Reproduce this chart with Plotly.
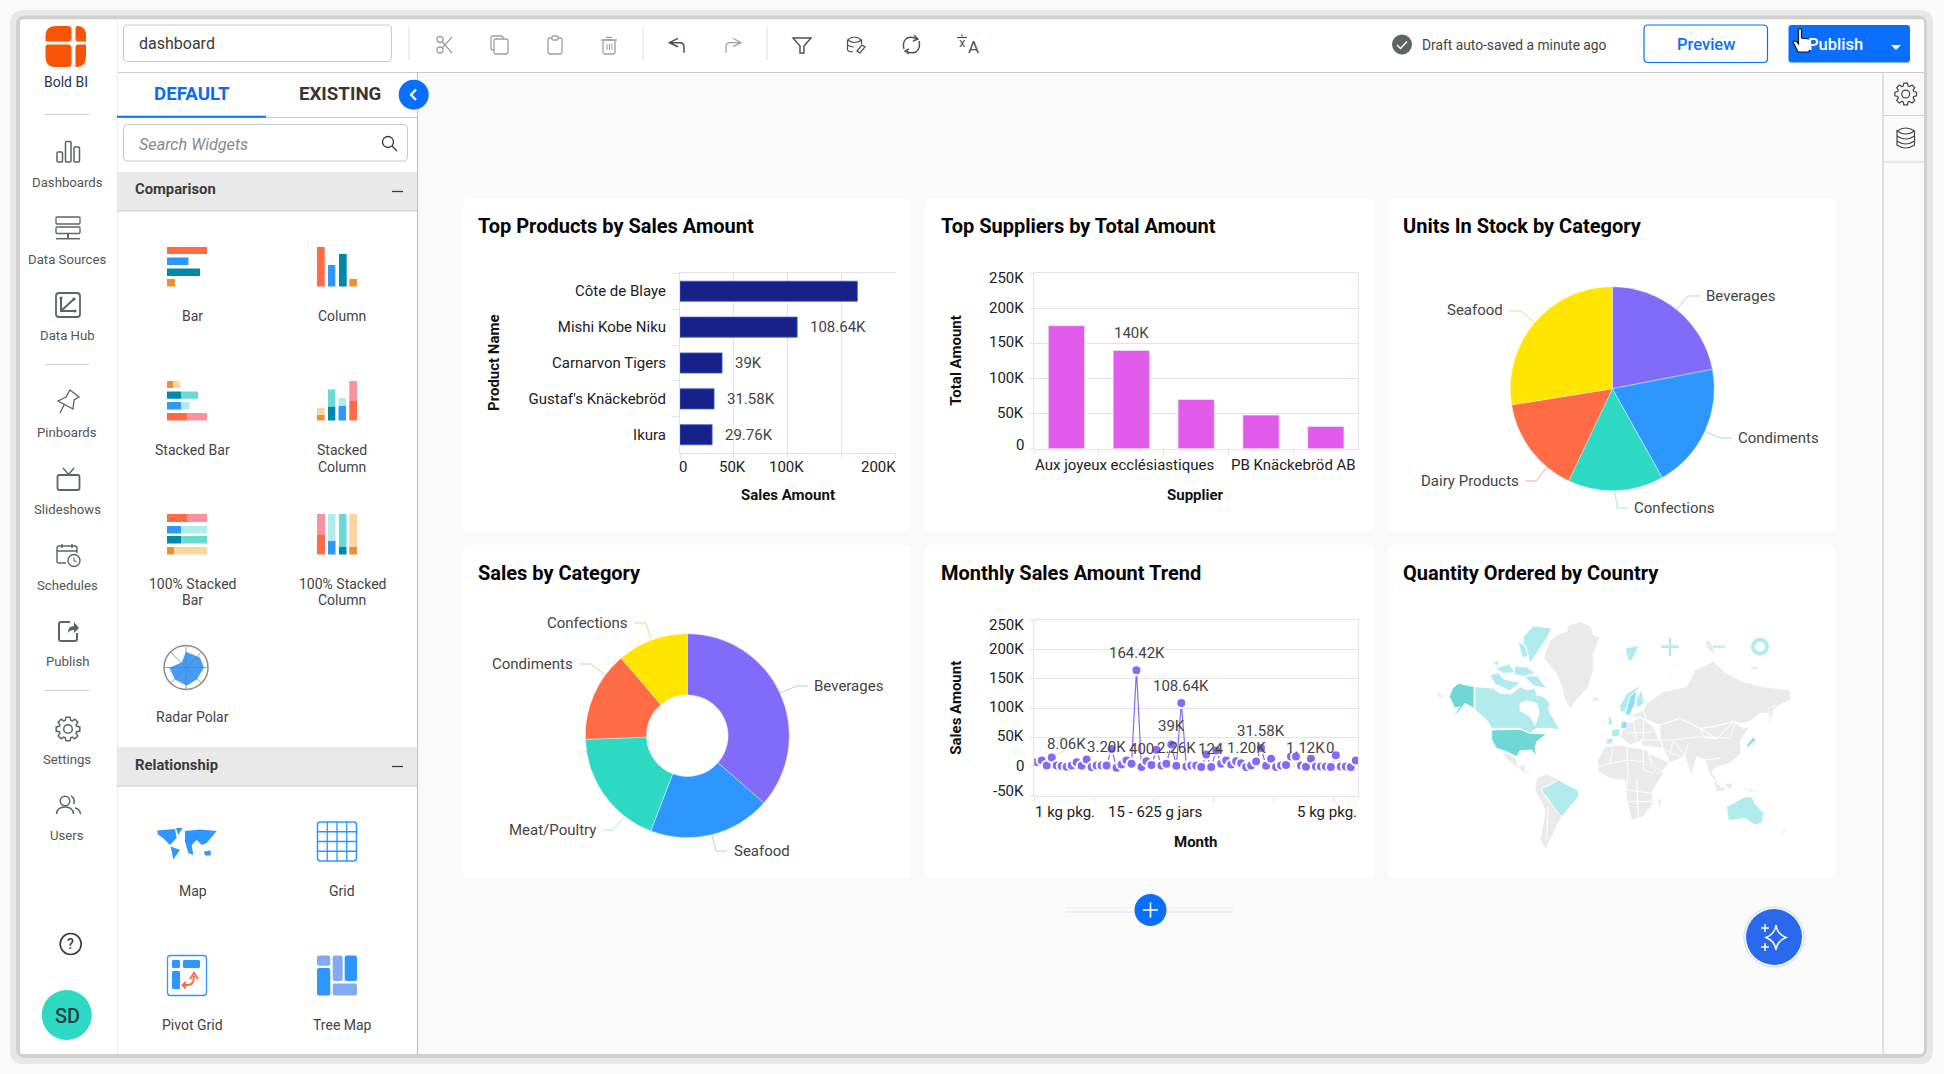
import math
import re
import plotly.graph_objects as go

W, H = 1944, 1074
FONT = "Roboto"

# chart values
product_names = ["Côte de Blaye", "Mishi Kobe Niku", "Carnarvon Tigers", "Gustaf's Knäckebröd", "Ikura"]
product_sales = [164420, 108640, 39000, 31580, 29760]
product_labels = ["", "108.64K", "39K", "31.58K", "29.76K"]
product_ticks = [0, 50000, 100000, 200000]
product_ticktext = ["0", "50K", "100K", "200K"]

supplier_names = ["Aux joyeux ecclésiastiques", "Tokyo Traders", "Plutzer", "Pavlova", "PB Knäckebröd AB"]
supplier_amount = [175400, 140000, 70300, 48000, 31800]

stock_cats = ["Beverages", "Condiments", "Confections", "Dairy Products", "Seafood"]
stock_units = [559, 507, 386, 393, 701]

sales_cats = ["Beverages", "Seafood", "Meat/Poultry", "Condiments", "Confections"]
sales_vals = [267900, 142000, 136700, 105300, 82400]

amount_ticks = [250000, 200000, 150000, 100000, 50000, 0]
amount_ticktext = ["250K", "200K", "150K", "100K", "50K", "0"]
trend_ticks = [250000, 200000, 150000, 100000, 50000, 0, -50000]
trend_ticktext = ["250K", "200K", "150K", "100K", "50K", "0", "-50K"]

trend_vals = [
    7400, 10300, 1700, 15400, 1700, 600, -600, 1700, 7400, 1100,
    12000, -1100, 1700, 1700, 1700, 30000, -2300, 3400, 10300, 4600,
    164420, -1100, 9100, 2300, 28500, 1700, 4600, 37600, 1100, 108640,
    0, 1700, 1700, -1100, 20500, -1100, 27400, 4600, 10300, 3400,
    9100, 5700, -1100, 1700, 8600, 31580, 1100, 13100, -1100, 1700,
    2300, 17100, 17100, 1700, -600, 13100, 0, 0, 0, -1100,
    19000, 0, 0, -1100, 10300,
]
trend_notes = ["164.42K", "108.64K", "39K", "31.58K", "8.06K", "3.20K", "400", "2.26K", "124", "1.20K", "1.12K", "0"]
trend_note_pos = [20.07, 29, 27, 44.93, 6, 14.07, 21, 28.07, 35, 42, 53.87, 58.87]
trend_note_val = [193800, 137300, 68400, 60000, 38200, 32500, 29700, 31300, 29100, 31300, 31300, 30800]
trend_tick_text = ["1 kg pkg.", "15 - 625 g jars", "5 kg pkg."]
trend_tick_pos = [5.67, 23.73, 58.13]

# world map outlines, in units of the map card (470 x 350 card at 3 units per pixel)
map_grey = [
    [(565, 255), (600, 245), (635, 260), (640, 285), (660, 292), (640, 340), (640, 390), (625, 440), (590, 480), (570, 505), (555, 480), (545, 440), (530, 400), (490, 355), (510, 300), (540, 280), (560, 275)],
    [(168, 455), (185, 462), (190, 478), (175, 470)],
    [(365, 635), (405, 650), (415, 680), (440, 672), (432, 688), (462, 708), (430, 695), (395, 670), (375, 650)],
    [(470, 715), (500, 700), (540, 722), (505, 735), (487, 745), (490, 762), (520, 800), (545, 830), (525, 870), (510, 900), (497, 928), (480, 900), (490, 850), (495, 810), (465, 750)],
    [(635, 475), (655, 470), (657, 482), (640, 486)],
    [(800, 490), (850, 455), (920, 440), (945, 390), (1000, 365), (1040, 400), (1090, 425), (1150, 440), (1230, 450), (1232, 480), (1190, 500), (1165, 552), (1172, 520), (1140, 520), (1115, 540), (1090, 550), (1060, 545), (1000, 560), (960, 565), (900, 535), (840, 555), (800, 540), (790, 510)],
    [(960, 565), (1000, 560), (1060, 545), (1010, 597)],
    [(840, 555), (900, 535), (960, 565), (1010, 597), (1060, 545), (1090, 565), (1110, 560), (1082, 600), (1082, 640), (1050, 670), (1010, 680), (995, 695), (1025, 745), (990, 705), (975, 660), (950, 650), (935, 705), (915, 650), (870, 640), (850, 625), (840, 600)],
    [(840, 600), (880, 600), (915, 650), (870, 668), (850, 625)],
    [(805, 640), (870, 668), (835, 702), (815, 680)],
    [(675, 620), (720, 615), (800, 630), (825, 680), (850, 700), (815, 760), (820, 790), (790, 830), (755, 840), (740, 780), (735, 720), (690, 715), (655, 695), (652, 660)],
    [(835, 780), (848, 775), (835, 810)],
    [(730, 560), (780, 530), (820, 560), (838, 600), (790, 600), (750, 615), (722, 590)],
    [(745, 530), (790, 510), (800, 540), (780, 532)],
    [(780, 600), (840, 600), (850, 625), (790, 618)],
    [(1000, 720), (1040, 750), (1010, 755)],
    [(1030, 730), (1060, 730), (1050, 750)],
    [(1100, 745), (1140, 755), (1110, 755)],
    [(860, 425), (890, 375), (902, 370), (870, 402)],
    [(975, 305), (990, 300), (1008, 345), (985, 330)],
    [(1105, 378), (1140, 380), (1125, 392)],
    [(1200, 885), (1222, 855), (1215, 875)],
    [(1165, 505), (1185, 495), (1175, 540), (1165, 552)],
]
map_pale = [
    [(285, 440), (340, 445), (360, 460), (395, 462), (420, 440), (440, 450), (465, 445), (470, 465), (490, 470), (510, 490), (505, 510), (530, 550), (540, 570), (510, 565), (470, 565), (450, 580), (420, 565), (335, 565), (320, 540), (285, 510)],
    [(430, 290), (460, 258), (515, 265), (500, 295), (470, 340), (450, 370), (440, 330), (430, 310)],
    [(415, 305), (438, 318), (445, 350), (425, 352)],
    [(340, 370), (358, 358), (352, 378)],
    [(345, 385), (388, 372), (405, 398), (370, 400)],
    [(405, 378), (442, 382), (465, 398), (432, 410), (400, 402)],
    [(330, 405), (355, 398), (372, 418), (422, 428), (388, 452), (345, 432)],
    [(432, 408), (472, 408), (500, 445), (462, 438)],
    [(485, 745), (510, 735), (535, 720), (595, 752), (595, 770), (570, 800), (555, 815), (545, 830), (520, 800), (500, 770), (490, 760)],
    [(735, 325), (760, 320), (778, 316), (770, 332), (755, 362), (745, 362)],
    [(785, 435), (740, 460), (718, 500), (722, 516), (735, 515), (745, 490), (765, 455)],
    [(785, 450), (792, 490), (770, 505), (770, 475)],
    [(695, 570), (720, 565), (718, 590), (695, 590)],
    [(680, 595), (700, 595), (695, 612), (680, 612)],
    [(685, 522), (695, 540), (700, 555), (685, 555)],
    [(1040, 800), (1095, 770), (1115, 770), (1125, 790), (1152, 820), (1145, 850), (1125, 855), (1095, 835), (1045, 842)],
]
map_water = [
    [(420, 490), (440, 482), (470, 490), (478, 520), (465, 555), (450, 530), (420, 512)],
]
map_teal = [
    [(235, 430), (282, 440), (282, 505), (255, 490), (240, 510), (215, 535), (240, 500), (225, 505), (208, 470), (218, 445)],
    [(335, 570), (420, 568), (450, 580), (470, 580), (500, 582), (470, 605), (465, 625), (470, 650), (455, 630), (420, 632), (410, 650), (380, 635), (350, 625), (335, 600)],
]
map_sky = [
    [(770, 450), (750, 470), (735, 525), (750, 525), (765, 490)],
    [(725, 545), (742, 545), (740, 565), (722, 565)],
    [(1120, 590), (1128, 600), (1100, 625), (1100, 615)],
]
map_borders = [
    [(700, 615), (690, 670), (655, 680)], [(740, 620), (745, 700)], [(790, 630), (790, 690), (820, 700)],
    [(690, 670), (745, 660), (790, 665)], [(745, 700), (740, 750), (815, 760)], [(770, 715), (775, 830)],
    [(740, 785), (820, 785)], [(870, 640), (880, 600), (960, 590), (1010, 597)], [(960, 565), (970, 590), (1050, 595), (1065, 548)],
    [(915, 650), (925, 610)], [(975, 660), (1020, 655)], [(805, 640), (850, 625)], [(760, 545), (770, 600)],
    [(790, 545), (790, 600)], [(740, 580), (820, 575)], [(505, 800), (500, 900)],
]

card_titles = ["Top Products by Sales Amount", "Top Suppliers by Total Amount", "Units In Stock by Category",
               "Sales by Category", "Monthly Sales Amount Trend", "Quantity Ordered by Country"]

widgets = [("Bar", 192.5, 316.5), ("Column", 342, 316.5), ("Stacked Bar", 192.5, 450), ("Stacked", 342, 450), ("Column", 342, 466.5),
           ("100% Stacked", 192.5, 584), ("Bar", 192.5, 600), ("100% Stacked", 342, 584), ("Column", 342, 600), ("Radar Polar", 192.5, 717),
           ("Map", 192.5, 891), ("Grid", 342, 891), ("Pivot Grid", 192.5, 1025), ("Tree Map", 342, 1025)]
nav_items = [("Dashboards", 182.5), ("Data Sources", 259.5), ("Data Hub", 335), ("Pinboards", 432), ("Slideshows", 509.5),
             ("Schedules", 585), ("Publish", 661), ("Settings", 759.5), ("Users", 835.5)]

RED, BLUE, TEAL, ORANGE = "#FF6B45", "#2D96FF", "#0088AA", "#EE9030"
PINK, MINT, ICE, SAND = "#F9929F", "#6BD9D3", "#B2EBEB", "#FAD5A0"
PIE = ["#816CF9", "#2D96FF", "#2ED9C3", "#FF6B45", "#FFE500"]
ICON = "#5B6660"
ACCENT = "#0A6EFF"
GRID = "#E3E3EC"
TICK = 15

shapes = []
notes = []


def fx(x):
    return x / W


def fy(y):
    return 1 - y / H


def path(d, fill="rgba(0,0,0,0)", color="rgba(0,0,0,0)", width=0, layer="below"):
    tokens = re.findall(r"[MLQCZ]|-?\d+\.?\d*", d)
    out, is_x = [], True
    for t in tokens:
        if t in "MLQCZ":
            out.append(t)
            is_x = True
        else:
            out.append(f"{fx(float(t)):.6f}" if is_x else f"{fy(float(t)):.6f}")
            is_x = not is_x
    shapes.append(dict(type="path", xref="paper", yref="paper", path=" ".join(out), fillcolor=fill,
                       line=dict(color=color, width=width), layer=layer))


def rrect(x0, y0, x1, y1, r=0, fill="rgba(0,0,0,0)", color="rgba(0,0,0,0)", width=0):
    path(f"M{x0+r},{y0} L{x1-r},{y0} Q{x1},{y0} {x1},{y0+r} L{x1},{y1-r} Q{x1},{y1} {x1-r},{y1} "
         f"L{x0+r},{y1} Q{x0},{y1} {x0},{y1-r} L{x0},{y0+r} Q{x0},{y0} {x0+r},{y0} Z", fill, color, width)


def line(x0, y0, x1, y1, color=ICON, width=1.5):
    shapes.append(dict(type="line", xref="paper", yref="paper", x0=fx(x0), y0=fy(y0), x1=fx(x1), y1=fy(y1),
                       line=dict(color=color, width=width), layer="below"))


def circle(cx, cy, r, fill="rgba(0,0,0,0)", color="rgba(0,0,0,0)", width=0):
    shapes.append(dict(type="circle", xref="paper", yref="paper", x0=fx(cx - r), y0=fy(cy - r), x1=fx(cx + r), y1=fy(cy + r),
                       fillcolor=fill, line=dict(color=color, width=width), layer="below"))


def poly(points, fill="rgba(0,0,0,0)", color="rgba(0,0,0,0)", width=0, close=True):
    d = "M" + " L".join(f"{x},{y}" for x, y in points) + (" Z" if close else "")
    path(d, fill, color, width)


def gear(cx, cy, r, color=ICON, width=1.5):
    pts = []
    for i in range(8):
        a = i * math.pi / 4
        for da, rad in ((-0.3, r * 0.76), (-0.17, r), (0.17, r), (0.3, r * 0.76)):
            pts.append((round(cx + rad * math.sin(a + da), 2), round(cy - rad * math.cos(a + da), 2)))
    poly(pts, color=color, width=width)
    circle(cx, cy, r * 0.36, color=color, width=width)


def text(x, y, s, size=13, color="#444", anchor="center", weight=400, style="normal", angle=0):
    # annotation boxes carry about 2px of padding
    x = x - 2 if anchor == "left" else x + 2 if anchor == "right" else x
    notes.append(dict(x=fx(x), y=fy(y), xref="paper", yref="paper", text=s, showarrow=False, xanchor=anchor, yanchor="middle",
                      textangle=angle, font=dict(family=FONT, size=size, color=color, weight=weight, style=style)))


def draw_frame():
    rrect(10, 10, 1933, 1064, 14, "#E7E7E7")
    rrect(16, 15.5, 1927, 1058, 10, "#D0D0D0")
    rrect(20, 19.5, 1924, 1054, 4, "#FAFAFA")
    rrect(20, 19.5, 117, 1054, 2, "#FFFFFF")
    path("M117,19.5 L1922,19.5 L1924,22 L1924,72 L117,72 Z", "#FFFFFF")
    path("M117,72 L417,72 L417,1054 L117,1054 Z", "#FFFFFF")
    line(117, 72.5, 1924, 72.5, "#CCCCCC", 1.2)
    line(417.5, 72, 417.5, 1054, "#C4C4C4", 1.2)
    line(1883, 72, 1883, 1054, "#C8C8C8", 1)
    line(1883, 115.5, 1924, 115.5, "#D0D0D0", 1)
    line(1883, 162, 1924, 162, "#D0D0D0", 1)
    line(117.5, 20, 117.5, 1054, "#EFEFEF", 1.5)


def draw_top_bar():
    rrect(123.5, 25, 391.5, 61.5, 4, "#FFFFFF", "#C8C8C8", 1)
    text(138.5, 43.5, "dashboard", 16, "#3A3A3A", "left")
    for x in (409, 643, 767):
        line(x, 27, x, 60, "#E0E0E0", 1)
    grey = "#A0A0A0"
    dark = "#4A5058"
    circle(440, 39.5, 3, color=grey, width=1.3)
    circle(440, 50, 3, color=grey, width=1.3)
    line(442, 41.5, 452, 53, grey, 1.3)
    line(442, 48, 452, 37, grey, 1.3)
    rrect(491, 36, 503, 50, 2, color=grey, width=1.3)
    rrect(494, 39, 508, 54, 2, "#FFFFFF", grey, 1.3)
    rrect(548, 38, 562, 54, 2, color=grey, width=1.3)
    rrect(552, 36, 558, 40, 1, "#FFFFFF", grey, 1.3)
    line(601, 40, 617, 40, grey, 1.3)
    line(606, 37.5, 612, 37.5, grey, 1.3)
    rrect(603, 40, 615, 54, 1.5, color=grey, width=1.3)
    for x in (607, 609.5, 612):
        line(x, 44, x, 50, grey, 1)
    path("M678,38.3 L669.4,42.7 L678,46.7 M669.4,42.7 L680,42.7 Q684,42.7 684,47 L684,52.7", color=dark, width=1.5)
    path("M733,38.3 L741,42.7 L733,46.7 M741,42.7 L730,42.7 Q726,42.7 726,47 L726,52.7", color=grey, width=1.3)
    path("M793,38 L811,38 L804,46 L804,53 L800,53 L800,46 Z", color=dark, width=1.4)
    path("M847.5,40 Q854.5,34 861.5,40 Q854.5,45 847.5,40 M847.5,40 L847.5,50 Q849,52 853,52 M861.5,40 L861.5,44 M847.5,45 Q850,47 854,47", color=dark, width=1.2)
    path("M857,51 L862,45 L865,47 L860,53 Z", color=dark, width=1.2)
    path("M917,39 Q912,36 907,38 Q902,42 904,49 M906,51 Q911,54 916,52 Q921,48 919,41", color=dark, width=1.4)
    path("M914,35 L918,39 L913,41 M909,49 L905,51 L909,54", color=dark, width=1.4)
    line(957, 37.5, 967, 37.5, dark, 1.2)
    line(962, 34.5, 962, 36.5, dark, 1.2)
    text(962, 42.5, "x", 13, dark)
    text(973, 47, "A", 17, dark)
    circle(1402, 44.5, 10, ICON)
    path("M1397,45 L1400.5,48.5 L1407,41.5", color="#FFFFFF", width=1.4)
    text(1421.5, 44.5, "Draft auto-saved a minute ago", 13.8, "#444", "left")
    rrect(1644, 25, 1767.5, 62.5, 4, "#FFFFFF", ACCENT, 1.2)
    text(1705.5, 44.5, "Preview", 16.5, ACCENT, weight=500)
    rrect(1788.5, 25, 1910, 62.5, 3, ACCENT)
    text(1835, 44.5, "Publish", 16.5, "#FFFFFF", weight=500)
    poly([(1891, 45), (1901, 45), (1896, 50)], "#FFFFFF")
    path("M1798.5,30 Q1800,27 1801.5,30 L1801.5,38 L1809,39 Q1812,40 1811.5,44 L1809,52 L1798,52 L1793,42 Q1794,40 1797,42 L1798.5,44 Z",
         "#FFFFFF", "#111111", 1.2, layer="above")
    gear(1905.7, 94, 11, "#444", 1.2)
    path("M1897,131 Q1905.7,125 1914.5,131 Q1905.7,137 1897,131 L1897,145 Q1905.7,151 1914.5,145 L1914.5,131 "
         "M1897,136 Q1905.7,142 1914.5,136 M1897,141 Q1905.7,147 1914.5,141", color="#444", width=1.2)


def draw_nav():
    logo = "#F95406"
    path("M45.5,41.5 L45.5,36 Q45.5,26 55.5,26 L68,26 Q71.5,26 71.5,29 L71.5,38 Q71.5,41.5 68,41.5 Z", logo)
    path("M75.5,29 Q75.5,26 78,26 Q86,26 86,36 L86,41.5 L78,41.5 Q75.5,41.5 75.5,38 Z", logo)
    path("M48,44.5 L68,44.5 Q71.5,44.5 71.5,48 L71.5,64 Q71.5,67 68,67 L55,67 Q45.5,67 45.5,56 L45.5,47 Q45.5,44.5 48,44.5 Z", logo)
    path("M78,44.5 L86,44.5 L86,56 Q86,67 77,67 L75.5,67 L75.5,48 Q75.5,44.5 78,44.5 Z", logo)
    text(66, 82, "Bold BI", 14, "#2A3350")
    for y in (114.5, 364.5, 690.5):
        line(45, y, 89, y, "#CFCFCF", 1.2)
    for label, y in nav_items:
        text(67, y, label, 13.2, "#555")
    for x0, x1, y0 in ((57, 62.5, 152), (65.5, 71, 141.5), (74, 79.5, 147)):
        rrect(x0, y0, x1, 162, 1, color=ICON, width=1.5)
    rrect(56, 217, 80, 224, 1, color=ICON, width=1.3)
    rrect(56, 227, 80, 233.5, 1, color=ICON, width=1.3)
    line(68, 233.5, 68, 239, ICON, 2)
    line(56, 238.7, 80, 238.7, ICON, 1.5)
    rrect(56, 293, 80, 317, 3, color=ICON, width=1.8)
    path("M61,298 L61,311 L75,311 M61,311 L74,299", color=ICON, width=2)
    circle(61, 298, 1.6, ICON)
    circle(75, 311, 1.6, ICON)
    circle(74, 299, 1.6, ICON)
    path("M70,390 L79,397 L74,400 L73,409 L58,401 L66,397 Z M64,405 L60,413", color=ICON, width=1.3)
    rrect(57.5, 475, 79.5, 490, 2, color=ICON, width=1.8)
    path("M63,468 L68.5,474.5 L74,468", color=ICON, width=1.4)
    path("M66,563 L59,563 Q57,563 57,561 L57,548 Q57,546 59,546 L75,546 Q77,546 77,548 L77,553 M57,551 L77,551 M62,544 L62,548 M72,544 L72,548", color=ICON, width=1.4)
    circle(74, 560.5, 6, color=ICON, width=1.4)
    path("M74,557.5 L74,560.5 L76.5,562", color=ICON, width=1.1)
    path("M70,622 L61,622 Q59,622 59,624 L59,639 Q59,641 61,641 L75,641 Q77,641 77,639 L77,633", color=ICON, width=2)
    path("M68,633 Q68,626 74,626 L74,622 L79,628 L74,633 L74,630 Q70,630 68,633 Z", ICON)
    gear(68, 729, 12)
    circle(65, 801, 4.8, color=ICON, width=1.5)
    path("M56.5,814 Q57,807 65,807 Q73,807 73.5,814 M71,796 Q75,798 74,804 M75,808 Q80,809 80.5,814", color=ICON, width=1.5)
    circle(70.7, 944, 10.5, color="#3A3A3A", width=1.6)
    text(70.7, 944, "?", 14, "#3A3A3A", weight=500)
    circle(66.7, 1015, 25, "#2ED9C3")
    text(67.5, 1015.5, "SD", 20, "#274047", weight=500)


def draw_panel():
    text(191.5, 93.5, "DEFAULT", 18.7, "#0A6CF5", weight=700)
    text(340, 93.5, "EXISTING", 18.7, "#3D3330", weight=700)
    line(117, 117.5, 417, 117.5, "#CCCCCC", 1)
    line(117, 116.7, 266, 116.7, ACCENT, 2)
    circle(413.7, 94.7, 15, ACCENT)
    path("M416,89.5 L411,94.7 L416,100", color="#FFFFFF", width=2.2)
    rrect(123.5, 124.5, 407.5, 161, 4, "#FFFFFF", "#C8C8C8", 1)
    text(138.5, 144.5, "Search Widgets", 16.2, "#888", "left", style="italic")
    circle(388, 142, 5.5, color="#333", width=1.3)
    line(392, 146, 397, 151, "#333", 1.3)
    for y0, y1, label in ((172, 211, "Comparison"), (747, 786, "Relationship")):
        path(f"M117,{y0} L417,{y0} L417,{y1} L117,{y1} Z", "#E9E9E9")
        line(117, y1, 417, y1, "#C8C8C8", 1)
        text(134.5, (y0 + y1) / 2 - 2, label, 14.8, "#3A3A3A", "left", 700)
        line(392, (y0 + y1) / 2, 403, (y0 + y1) / 2, "#3A3A3A", 1.3)
    for label, x, y in widgets:
        text(x, y, label, 14, "#444")

    blocks = [
        (167, 247, 207, 254, RED), (167, 257.6, 188.5, 265, BLUE), (167, 268.6, 200, 276, TEAL), (167, 279, 175, 286.5, ORANGE),
        (317, 247, 324.7, 286.5, RED), (328, 265, 335.3, 286.5, BLUE), (339, 254, 346.7, 286.5, TEAL), (349.3, 279, 357, 286.5, ORANGE),
        (167, 381, 173, 388, ORANGE), (173, 381, 180, 388, SAND), (167, 391.5, 181, 398.8, TEAL), (181, 391.5, 198, 398.8, MINT),
        (167, 402, 181, 409.4, BLUE), (181, 402, 189.5, 409.4, ICE), (167, 413, 187, 420.5, RED), (187, 413, 207, 420.5, PINK),
        (317, 408, 324.7, 415, SAND), (317, 415, 324.7, 420.5, ORANGE), (328, 389.5, 335.3, 406.7, MINT), (328, 406.7, 335.3, 420.5, TEAL),
        (338.5, 398, 346, 406, ICE), (338.5, 406, 346, 420.5, BLUE), (349.3, 381, 357, 401, PINK), (349.3, 401, 357, 420.5, RED),
        (167, 514, 187, 522, RED), (187, 514, 207, 522, PINK), (167, 526, 181, 533.4, BLUE), (181, 526, 207, 533.4, ICE),
        (167, 536, 181, 543.5, TEAL), (181, 536, 207, 543.5, MINT), (167, 547, 174, 554.5, ORANGE), (174, 547, 207, 554.5, SAND),
        (317, 514, 325, 534.5, PINK), (317, 534.5, 325, 554.5, RED), (328, 514, 335.5, 541, ICE), (328, 541, 335.5, 554.5, BLUE),
        (339, 514, 346.5, 547, MINT), (339, 547, 346.5, 554.5, TEAL), (349.3, 514, 357, 547, SAND), (349.3, 547, 357, 554.5, ORANGE),
    ]
    for x0, y0, x1, y1, c in blocks:
        rrect(x0, y0, x1, y1, 0, c)

    circle(186, 667.5, 22, color="#8A8A8A", width=1.5)
    for i in range(4):
        a = i * math.pi / 4
        dx, dy = 22 * math.sin(a), 22 * math.cos(a)
        line(round(186 - dx, 1), round(667.5 - dy, 1), round(186 + dx, 1), round(667.5 + dy, 1), "#9A9A9A", 1)
    poly([(169.3, 667.7), (181.7, 662.6), (186, 651.7), (200, 657.5), (204, 667.7), (196.7, 679.6), (186.7, 685.8), (175, 679.6)], "rgba(40,140,240,0.85)")

    for pts in ([(157, 830.5), (175, 829), (176.7, 838), (170, 845), (163, 838), (158, 834.6)],
                [(170.7, 846.5), (180, 850), (173.3, 859.5)],
                [(176, 828), (182.7, 828), (178.3, 835)],
                [(185, 831), (200, 829.5), (216.7, 831), (206.7, 843), (201.7, 845), (196.7, 840), (191.7, 845), (193.3, 855), (188.3, 853), (185, 841.5)],
                [(204, 851.6), (210.7, 850.6), (210.7, 855.4), (205, 855.4)]):
        poly(pts, BLUE)

    rrect(317.5, 822, 356.5, 861, 3, "#FFFFFF", BLUE, 1.5)
    for i in (1, 2, 3):
        line(317.5 + i * 9.75, 822, 317.5 + i * 9.75, 861, BLUE, 1.3)
        line(317.5, 822 + i * 9.75, 356.5, 822 + i * 9.75, BLUE, 1.3)

    rrect(167.5, 955.5, 206.5, 995.5, 3, "#FFFFFF", BLUE, 1.3)
    rrect(172, 960, 180, 968, 1.5, BLUE)
    rrect(183, 960, 200, 968, 1.5, BLUE)
    rrect(172, 971, 180, 989, 1.5, BLUE)
    path("M183,985 L188,985 Q194,985 194,976 M190,979 L194,973 L198,979 M186,982 L182.5,985 L186,988.5", color=RED, width=2)

    light = "#85A9F0"
    rrect(317, 955.5, 330.3, 965.8, 2, light)
    rrect(317, 968, 330.3, 995.4, 2, BLUE)
    rrect(332.7, 955.5, 342.7, 981, 2, light)
    rrect(344.7, 955.5, 357, 981, 2, BLUE)
    rrect(332.7, 983.5, 357, 995.4, 2, light)


def draw_cards():
    xs = ((463.5, 910.5, 478.5), (925, 1374, 941), (1388, 1835.5, 1403.5))
    ys = ((199, 531.5, 226.5), (546, 879, 573))
    n = 0
    for y0, y1, ty in ys:
        for x0, x1, tx in xs:
            rrect(x0, y0, x1, y1, 5, "#FFFFFF")
            text(tx - 0.5, ty, card_titles[n], 20, "#050505", "left", 700)
            n += 1
    # add-row button and assistant button
    line(1065, 908, 1233, 908, "#EDEDF2", 1)
    line(1065, 912, 1233, 912, "#E4E4EC", 1)
    circle(1150.5, 910, 16, ACCENT)
    line(1143, 910, 1158, 910, "#FFFFFF", 1.6)
    line(1150.5, 902.5, 1150.5, 917.5, "#FFFFFF", 1.6)
    circle(1774, 937, 30, "#FFFFFF", "#C4D8F5", 1)
    circle(1774, 937, 28, "#2A68EC")
    path("M1776,925 Q1777,934 1786,937.5 Q1777,941 1776,950 Q1775,941 1766,937.5 Q1775,934 1776,925 Z", color="#FFFFFF", width=1.5)
    for y in (928, 947):
        line(1761, y, 1769, y, "#FFFFFF", 1.5)
        line(1765, y - 4, 1765, y + 4, "#FFFFFF", 1.5)


def domain_x(x0, x1):
    return [fx(x0), fx(x1)]


def domain_y(y0, y1):
    return [fy(y1), fy(y0)]


def axis_notes(labels, values, shifts, axis_name, x_right=1026):
    for label, v, s in zip(labels, values, shifts):
        notes.append(dict(x=fx(x_right), y=v, xref="paper", yref=axis_name, text=label, showarrow=False, xanchor="right", yanchor="middle",
                          yshift=s, font=dict(family=FONT, size=TICK, color="#222")))


draw_frame()
draw_top_bar()
draw_nav()
draw_panel()
draw_cards()

fig = go.Figure()

# top products
fig.add_trace(go.Bar(x=product_sales, y=product_names, orientation="h", xaxis="x", yaxis="y", width=0.56,
                     marker=dict(color="#16228A", line=dict(color="#3C5FC0", width=0.8))))
for s, name, label in zip(product_sales, product_names, product_labels):
    if label:
        notes.append(dict(x=s, y=name, xref="x", yref="y", text=label, showarrow=False, xanchor="left", yanchor="middle", xshift=11,
                          font=dict(family=FONT, size=TICK, color="#444")))
for v, label, anchor, shift in zip(product_ticks, product_ticktext, ("left", "center", "center", "right"), (-3, -1, -1, 2)):
    notes.append(dict(x=v, y=fy(466.5), xref="x", yref="paper", text=label, showarrow=False, xanchor=anchor, yanchor="middle",
                      xshift=shift, font=dict(family=FONT, size=TICK, color="#222")))

# top suppliers
fig.add_trace(go.Bar(x=supplier_names, y=supplier_amount, xaxis="x2", yaxis="y2", width=0.56,
                     marker=dict(color="#E15CEB", line=dict(color="#F0E6F0", width=0.8))))
notes.append(dict(x=supplier_names[1], y=supplier_amount[1], xref="x2", yref="y2", text="140K", showarrow=False, yshift=17, yanchor="middle",
                  font=dict(family=FONT, size=TICK, color="#444")))
axis_notes(amount_ticktext, amount_ticks, [-5, 0, 1, 1, 1, 4], "y2")
notes.append(dict(x=-0.5, y=fy(465), xref="x2", yref="paper", text=supplier_names[0], showarrow=False, xanchor="left", yanchor="middle", xshift=-1,
                  font=dict(family=FONT, size=TICK, color="#222")))
notes.append(dict(x=4.5, y=fy(465), xref="x2", yref="paper", text=supplier_names[4], showarrow=False, xanchor="right", yanchor="middle", xshift=0,
                  font=dict(family=FONT, size=TICK, color="#222")))

# monthly trend
fig.add_trace(go.Scatter(x=list(range(len(trend_vals))), y=trend_vals, mode="lines+markers", xaxis="x3", yaxis="y3",
                         line=dict(color="#816CF9", width=1.2),
                         marker=dict(color="#816CF9", size=10, line=dict(color="#FFFFFF", width=2))))
axis_notes(trend_ticktext, trend_ticks, [-5, 1, 1, 1, 1, 0, 5], "y3")
for label, p, v in zip(trend_notes, trend_note_pos, trend_note_val):
    notes.append(dict(x=p, y=v, xref="x3", yref="y3", text=label, showarrow=False, yanchor="middle",
                      font=dict(family=FONT, size=TICK, color="#444")))
for label, p in zip(trend_tick_text, trend_tick_pos):
    notes.append(dict(x=p, y=fy(811.7), xref="x3", yref="paper", text=label, showarrow=False, yanchor="middle",
                      font=dict(family=FONT, size=TICK, color="#222")))
line(1051.5, 757, 1066, 750, "#D5DDE5", 1)

# map, drawn as filled outlines because no topojson can be fetched
for group, color in ((map_grey, "#EAEAEA"), (map_pale, "#B2EBEB"), (map_water, "#FFFFFF"), (map_teal, "#6FD8D4"), (map_sky, "#8FDDF8")):
    mx, my = [], []
    for shape_pts in group:
        mx += [p[0] for p in shape_pts] + [shape_pts[0][0], None]
        my += [p[1] for p in shape_pts] + [shape_pts[0][1], None]
    fig.add_trace(go.Scatter(x=mx, y=my, mode="lines", fill="toself", fillcolor=color, xaxis="x4", yaxis="y4",
                             line=dict(color="#FFFFFF", width=0.8), hoverinfo="skip"))
bx, by = [], []
for seg in map_borders:
    bx += [p[0] for p in seg] + [None]
    by += [p[1] for p in seg] + [None]
fig.add_trace(go.Scatter(x=bx, y=by, mode="lines", xaxis="x4", yaxis="y4", line=dict(color="#FFFFFF", width=1), hoverinfo="skip"))

line(1661, 646.7, 1679, 646.7, "#B2EBEB", 2.5)
line(1670, 638, 1670, 656, "#B2EBEB", 2.5)
line(1706, 646.7, 1725, 646.7, "#B2EBEB", 2)
circle(1760, 646.7, 7, color="#B2EBEB", width=4)

# pies
fig.add_trace(go.Pie(labels=stock_cats, values=stock_units, sort=False, direction="clockwise", rotation=0, textinfo="none",
                     domain=dict(x=domain_x(1510.3, 1714.3), y=domain_y(286.7, 490.7)),
                     marker=dict(colors=PIE, line=dict(color="#FFFFFF", width=0.4))))
fig.add_trace(go.Pie(labels=sales_cats, values=sales_vals, sort=False, direction="clockwise", rotation=0, textinfo="none", hole=0.4,
                     domain=dict(x=domain_x(585.3, 789.3), y=domain_y(633.7, 837.7)),
                     marker=dict(colors=PIE, line=dict(color="#FFFFFF", width=0.4))))

stock_callouts = [
    ("Beverages", 1706, 296, "left", "#A9D4FF", [(1677, 309), (1688, 296), (1700, 296)]),
    ("Condiments", 1738, 438, "left", "#A9D4FF", [(1706, 432), (1720, 438), (1732, 438)]),
    ("Confections", 1634, 508, "left", "#A8ECEC", [(1615, 491), (1617, 508), (1628, 508)]),
    ("Dairy Products", 1519, 481, "right", "#F9A6A0", [(1547, 467), (1536, 481), (1525, 481)]),
    ("Seafood", 1503, 310, "right", "#FAD59A", [(1534, 322), (1521, 311), (1509, 311)]),
]
sales_callouts = [
    ("Beverages", 814, 686, "left", "#A9D4FF", [(780, 693), (797, 686), (808, 686)]),
    ("Seafood", 733.5, 851, "left", "#A9D4FF", [(712, 835), (716, 851), (727, 851)]),
    ("Meat/Poultry", 596, 830, "right", "#A8ECEC", [(624, 817), (613, 830), (602, 830)]),
    ("Condiments", 573, 664, "right", "#FAC29A", [(605, 675), (591, 664), (579, 664)]),
    ("Confections", 628, 623, "right", "#FAD59A", [(651, 639), (646, 623), (634, 623)]),
]
for callouts in (stock_callouts, sales_callouts):
    for label, x, y, anchor, color, pts in callouts:
        text(x, y, label, TICK, "#444", anchor)
        poly(pts, color=color, width=1, close=False)

# axis titles
text(787.5, 494.7, "Sales Amount", TICK, "#111", weight=700)
text(1195.7, 494.7, "Supplier", TICK, "#111", weight=700)
text(1195.7, 841.7, "Month", TICK, "#111", weight=700)
text(493.3, 362.7, "Product Name", TICK, "#111", weight=700, angle=-90)
text(955.7, 361, "Total Amount", TICK, "#111", weight=700, angle=-90)
text(955.7, 708, "Sales Amount", TICK, "#111", weight=700, angle=-90)

common = dict(gridcolor=GRID, linecolor=GRID, zeroline=False, showline=True, mirror=True, ticks="outside", tickcolor=GRID, tickwidth=1)
fig.update_layout(
    width=W, height=H, autosize=False, showlegend=False,
    margin=dict(l=0, r=0, t=0, b=0, pad=0),
    paper_bgcolor="#FAFAFA", plot_bgcolor="rgba(0,0,0,0)",
    shapes=shapes, annotations=notes,
    font=dict(family=FONT),
    xaxis=dict(domain=domain_x(680, 895.7), range=[0, 200000], tickvals=[0, 50000, 100000, 150000, 200000],
               showticklabels=False, showgrid=True, ticklen=4, anchor="y", **common),
    yaxis=dict(domain=domain_y(273.3, 452.7), autorange="reversed", type="category", tickson="boundaries", showgrid=False,
               ticklen=7, ticklabelstandoff=10, tickfont=dict(family=FONT, size=TICK, color="#222"), anchor="x",
               linecolor=GRID, tickcolor=GRID, showline=True, ticks="outside", zeroline=False),
    xaxis2=dict(domain=domain_x(1034, 1358.3), type="category", range=[-0.5, 4.5], tickson="boundaries", showgrid=False, showticklabels=False,
                ticklen=5, anchor="y2", linecolor=GRID, tickcolor=GRID, showline=True, mirror=True, ticks="outside", zeroline=False),
    yaxis2=dict(domain=domain_y(273.3, 448.7), range=[0, 250000], tickvals=amount_ticks, showticklabels=False, ticklen=3, anchor="x2",
                gridwidth=1.3, **common),
    xaxis3=dict(domain=domain_x(1034.3, 1358.3), range=[-0.5, 64.5], tickvals=[-0.5, 11.5, 23.5, 35.5, 47.5, 59.5], showgrid=False,
                showticklabels=False, ticklen=5, anchor="y3", linecolor=GRID, tickcolor=GRID, showline=True, mirror=True, ticks="outside", zeroline=False),
    yaxis3=dict(domain=domain_y(620.3, 795.7), range=[-50000, 250000], tickvals=trend_ticks, showticklabels=False, ticklen=3, anchor="x3", **common),
    xaxis4=dict(domain=domain_x(1380, 1850), range=[0, 1410], visible=False, anchor="y4"),
    yaxis4=dict(domain=domain_y(540, 890), range=[1050, 0], visible=False, anchor="x4"),
)

fig.write_html("out.html", config={"displayModeBar": False},
               post_script="document.body.style.margin='0';document.body.style.overflow='hidden';")
